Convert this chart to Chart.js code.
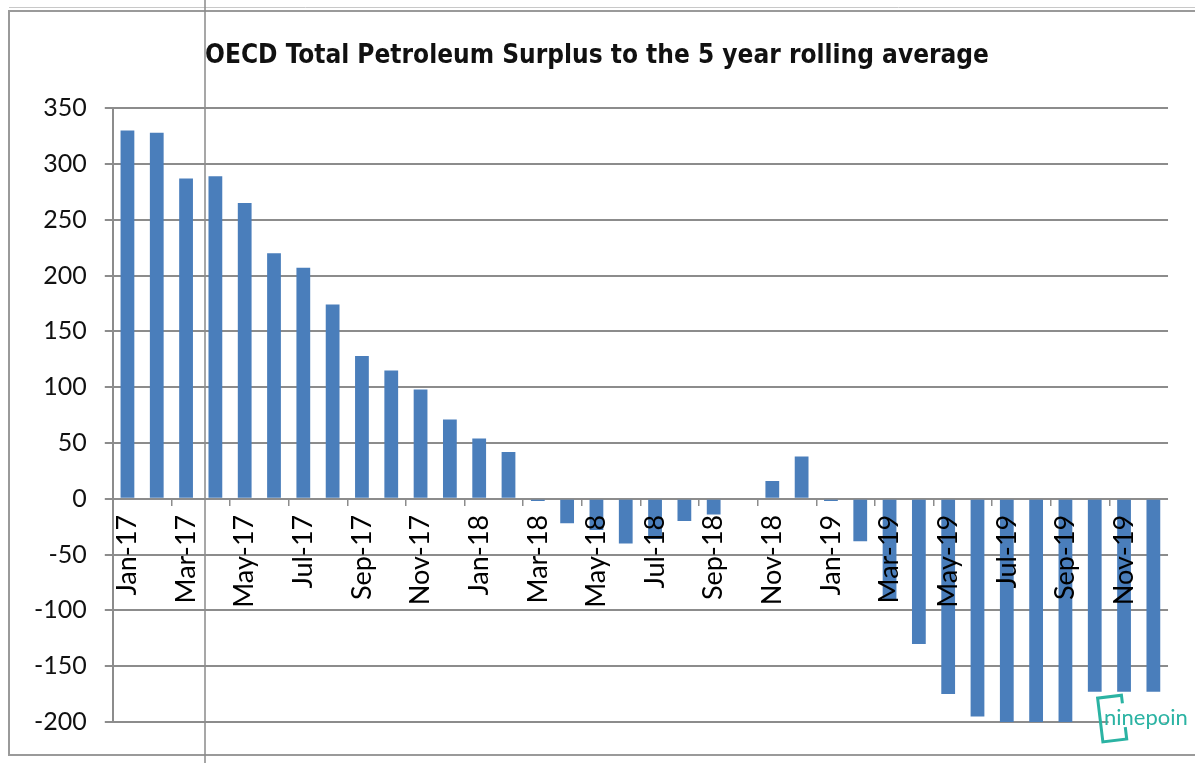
<!DOCTYPE html>
<html lang="en">
<head>
    <meta charset="UTF-8">
    <title>OECD Total Petroleum Surplus</title>
    <script src="https://cdn.jsdelivr.net/npm/chart.js"></script>
    <style>
        html, body { margin: 0; padding: 0; background: #fff; }
        #box { width: 1195px; height: 763px; }
    </style>
</head>
<body>
<div id="box">
    <canvas id="grafico" width="1195" height="763"></canvas>
</div>

<script>
    // meses Jan-17 .. Dec-19
    const meses = [
        'Jan-17', 'Feb-17', 'Mar-17', 'Apr-17', 'May-17', 'Jun-17',
        'Jul-17', 'Aug-17', 'Sep-17', 'Oct-17', 'Nov-17', 'Dec-17',
        'Jan-18', 'Feb-18', 'Mar-18', 'Apr-18', 'May-18', 'Jun-18',
        'Jul-18', 'Aug-18', 'Sep-18', 'Oct-18', 'Nov-18', 'Dec-18',
        'Jan-19', 'Feb-19', 'Mar-19', 'Apr-19', 'May-19', 'Jun-19',
        'Jul-19', 'Aug-19', 'Sep-19', 'Oct-19', 'Nov-19', 'Dec-19'
    ];

    // surplus vs media de 5 anos
    const surplus = [
        330, 328, 287, 289, 265, 220,
        207, 174, 128, 115, 98, 71,
        54, 42, -2, -22, -28, -40,
        -36, -20, -14, 0, 16, 38,
        -2, -38, -90, -130, -175, -195,
        -201, -201, -201, -173, -173, -173
    ];

    const eixoY = { min: -200, max: 350, passo: 50 };

    const titulo = 'OECD Total Petroleum Surplus to the 5 year rolling average';

    const corBarra = '#4a7ebb';
    const corGrade = '#8c8c8c';

    // moldura, linha vertical solta e marca d'agua da imagem original
    const moldura = {
        id: 'moldura',
        beforeDraw(chart) {
            const c = chart.ctx;
            c.save();
            c.fillStyle = '#fff';
            c.fillRect(0, 0, chart.width, chart.height);
            c.strokeStyle = '#9a9a9a';
            c.lineWidth = 2;
            c.strokeRect(9, 11, chart.width + 10, 744);
            c.strokeStyle = '#c8c8c8';
            c.lineWidth = 1;
            c.beginPath();
            c.moveTo(9, 7.5);
            c.lineTo(chart.width, 7.5);
            c.stroke();
            c.strokeStyle = '#8a8a8a';
            c.lineWidth = 1.5;
            c.beginPath();
            c.moveTo(205, 0);
            c.lineTo(205, chart.height);
            c.stroke();
            c.restore();
        },
        afterDraw(chart) {
            const c = chart.ctx;
            c.save();
            c.translate(1100, 718);
            c.rotate(-0.12);
            c.strokeStyle = '#2bb3a3';
            c.lineWidth = 3;
            c.strokeRect(0, -20, 24, 44);
            c.fillStyle = '#fff';
            c.fillRect(8, -12, 90, 24);
            c.rotate(0.12);
            c.fillStyle = '#2bb3a3';
            c.font = '22px "Lato", sans-serif';
            c.textBaseline = 'middle';
            c.fillText('ninepoin', 4, 0);
            c.restore();
        }
    };

    new Chart(document.getElementById('grafico'), {
        type: 'bar',
        data: {
            labels: meses,
            datasets: [{
                label: 'Surplus',
                data: surplus,
                backgroundColor: corBarra,
                borderWidth: 0,
                categoryPercentage: 1,
                barPercentage: 0.47
            }]
        },
        options: {
            responsive: false,
            animation: false,
            devicePixelRatio: 1,
            layout: {
                padding: { top: 12, left: 16, right: 17, bottom: 41 }
            },
            plugins: {
                legend: { display: false },
                tooltip: { enabled: false },
                title: {
                    display: true,
                    text: titulo,
                    color: '#111',
                    font: {
                        family: '"Liberation Sans Narrow", "DejaVu Sans Condensed", sans-serif',
                        size: 26,
                        weight: 'bold'
                    },
                    padding: { top: 29, bottom: 36 }
                }
            },
            scales: {
                x: {
                    position: { y: 0 },
                    grid: {
                        offset: true,
                        drawOnChartArea: false,
                        tickLength: 7,
                        lineWidth: 1.5,
                        color: ctx => (ctx.index % 2 === 0 ? corGrade : 'rgba(0,0,0,0)')
                    },
                    border: { display: false },
                    ticks: {
                        z: 2,
                        autoSkip: false,
                        minRotation: 90,
                        maxRotation: 90,
                        padding: 9,
                        color: '#000',
                        font: { family: 'Lato, sans-serif', size: 27 },
                        callback: function (valor, i) {
                            return i % 2 === 0 ? meses[i] : '';
                        }
                    }
                },
                y: {
                    min: eixoY.min,
                    max: eixoY.max,
                    grid: {
                        color: corGrade,
                        lineWidth: 2,
                        tickLength: 8
                    },
                    border: { display: true, color: corGrade, width: 2 },
                    ticks: {
                        stepSize: eixoY.passo,
                        padding: 18,
                        color: '#111',
                        font: { family: 'Lato, sans-serif', size: 25 }
                    }
                }
            }
        },
        plugins: [moldura]
    });
</script>
</body>
</html>
